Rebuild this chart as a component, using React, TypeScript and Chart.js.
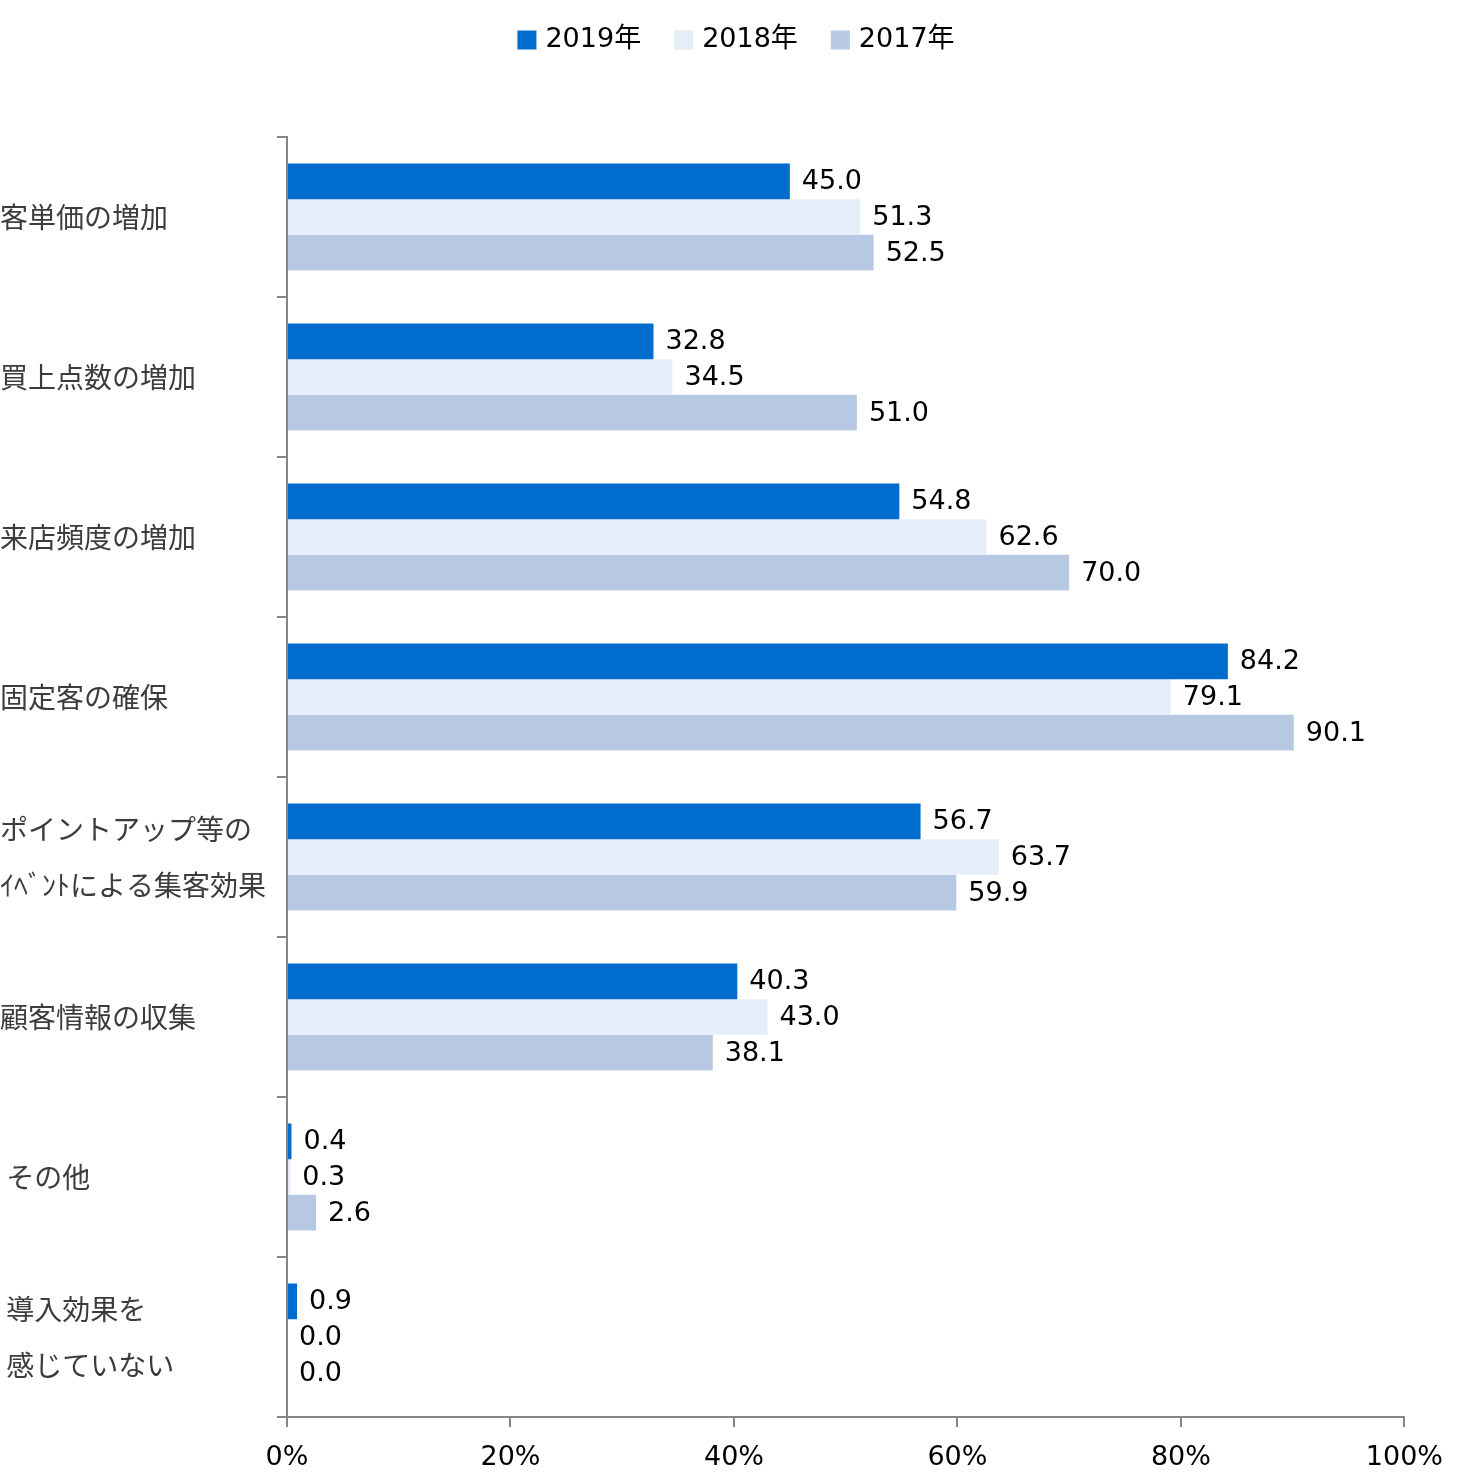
import React, { useEffect, useRef } from "react";
import { Chart, registerables } from "chart.js";

Chart.register(...registerables);

const categories: (string | string[])[] = [
  "客単価の増加",
  "買上点数の増加",
  "来店頻度の増加",
  "固定客の確保",
  ["ポイントアップ等の", "ｲﾍﾞﾝﾄによる集客効果"],
  "顧客情報の収集",
  " その他",
  [" 導入効果を", " 感じていない"],
];

const seriesNames = ["2019年", "2018年", "2017年"];
const values2019 = [45.0, 32.8, 54.8, 84.2, 56.7, 40.3, 0.4, 0.9];
const values2018 = [51.3, 34.5, 62.6, 79.1, 63.7, 43.0, 0.3, 0.0];
const values2017 = [52.5, 51.0, 70.0, 90.1, 59.9, 38.1, 2.6, 0.0];
const seriesColors = ["#006CCE", "#E5EEF8", "#B7C9E2"];
const xTicks = [0, 20, 40, 60, 80, 100];

const NUM_FONT = "27px 'DejaVu Sans', 'Noto Sans CJK JP', sans-serif";
const AXIS_COLOR = "#868686";

const dataLabelPlugin = {
  id: "dataLabels",
  afterDatasetsDraw(chart: any) {
    const ctx = chart.ctx;
    ctx.save();
    ctx.font = NUM_FONT;
    ctx.fillStyle = "#000000";
    ctx.textAlign = "left";
    ctx.textBaseline = "middle";
    chart.data.datasets.forEach((ds: any, di: number) => {
      const meta = chart.getDatasetMeta(di);
      meta.data.forEach((bar: any, i: number) => {
        ctx.fillText(Number(ds.data[i]).toFixed(1), bar.x + 12, bar.y + 1);
      });
    });
    ctx.restore();
  },
};

const legendPlugin = {
  id: "customLegend",
  afterDraw(chart: any) {
    const ctx = chart.ctx;
    ctx.save();
    ctx.font = NUM_FONT;
    ctx.textBaseline = "middle";
    ctx.textAlign = "left";
    const box = 19;
    const gap = 9;
    const itemGap = 33;
    const items = chart.data.datasets.map((ds: any) => ({
      label: ds.label,
      color: ds.backgroundColor,
      w: box + gap + ctx.measureText(ds.label).width,
    }));
    const total =
      items.reduce((s: number, it: any) => s + it.w, 0) + itemGap * (items.length - 1);
    let x = (chart.width - total) / 2 + 7;
    const cy = 40;
    items.forEach((it: any) => {
      ctx.fillStyle = it.color;
      ctx.fillRect(x, cy - box / 2, box, box);
      ctx.fillStyle = "#000000";
      ctx.fillText(it.label, x + box + gap, cy);
      x += it.w + itemGap;
    });
    ctx.restore();
  },
};

export default function App() {
  const canvasRef = useRef<HTMLCanvasElement | null>(null);

  useEffect(() => {
    document.body.style.margin = "0";
    const canvas = canvasRef.current;
    if (!canvas) return;
    const chart = new Chart(canvas, {
      type: "bar",
      data: {
        labels: categories,
        datasets: [
          { label: seriesNames[0], data: values2019, backgroundColor: seriesColors[0] },
          { label: seriesNames[1], data: values2018, backgroundColor: seriesColors[1] },
          { label: seriesNames[2], data: values2017, backgroundColor: seriesColors[2] },
        ],
      },
      options: {
        indexAxis: "y",
        responsive: false,
        animation: false,
        devicePixelRatio: 1,
        layout: { padding: { top: 137, right: 53, bottom: 0, left: 0 } },
        datasets: {
          bar: { categoryPercentage: 0.67, barPercentage: 1.0 },
        },
        plugins: {
          legend: { display: false },
          tooltip: { enabled: false },
        },
        scales: {
          x: {
            min: 0,
            max: 100,
            afterFit: (scale: any) => {
              scale.height = 67;
            },
            afterBuildTicks: (scale: any) => {
              scale.ticks = xTicks.map((v) => ({ value: v }));
            },
            ticks: {
              callback: (v: any) => v + "%",
              color: "#000000",
              font: { family: "'DejaVu Sans', 'Noto Sans CJK JP', sans-serif", size: 27 },
              padding: 15,
              maxRotation: 0,
            },
            grid: {
              drawOnChartArea: false,
              drawTicks: true,
              tickLength: 10,
              color: AXIS_COLOR,
              lineWidth: 2,
            },
            border: { color: AXIS_COLOR, width: 2 },
          },
          y: {
            afterFit: (scale: any) => {
              scale.width = 287;
            },
            ticks: {
              crossAlign: "far",
              color: "#3c3c3c",
              font: { family: "'Noto Sans CJK JP', sans-serif", size: 28, lineHeight: 2 },
              padding: 0,
              autoSkip: false,
            },
            grid: {
              offset: true,
              drawOnChartArea: false,
              drawTicks: true,
              tickLength: 10,
              color: AXIS_COLOR,
              lineWidth: 2,
            },
            border: { color: AXIS_COLOR, width: 2 },
          },
        },
      } as any,
      plugins: [dataLabelPlugin, legendPlugin],
    });
    return () => chart.destroy();
  }, []);

  return (
    <div style={{ position: "absolute", left: 0, top: 0, width: 1458, height: 1484, background: "#ffffff" }}>
      <canvas ref={canvasRef} width={1458} height={1484} style={{ width: 1458, height: 1484 }} />
    </div>
  );
}
